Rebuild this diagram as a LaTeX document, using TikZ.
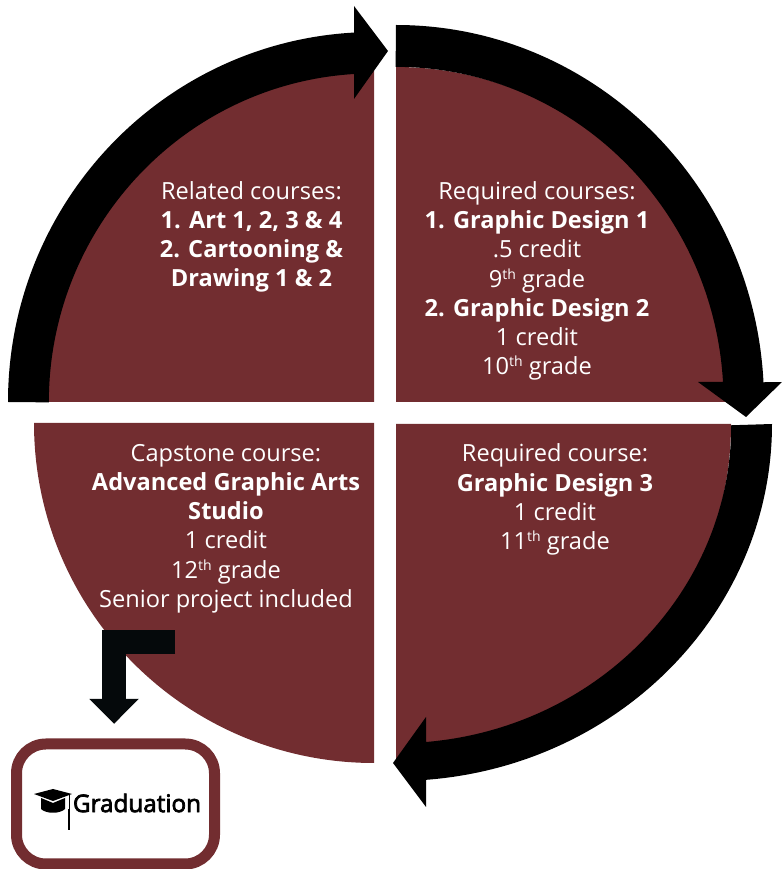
\documentclass[tikz,border=0pt]{standalone}
\usepackage{fontspec}
\setmainfont{Open Sans}
\newfontfamily\gradfont[FakeBold=3]{Open Sans}
\usetikzlibrary{arrows.meta}
\definecolor{maroon}{HTML}{722D30}
\definecolor{elbowblack}{HTML}{05090B}
\newcommand{\ordinal}[1]{\raisebox{0.62ex}{\fontsize{10.5}{10.5}\selectfont #1}}
\tikzset{
  wedge/.style={fill=maroon},
  band/.style={fill=black},
  coursetext/.style={text=white,align=center,font=\fontsize{17.7}{21.9}\selectfont,inner sep=0pt},
  capshape/.style={fill=black},
  elbowarrow/.style={draw=elbowblack,line width=18pt,miter limit=10,
    -{Triangle[length=18.75pt,width=36pt,color=elbowblack]},shorten >=11pt}
}
\begin{document}
\begin{tikzpicture}[x=0.75pt,y=0.75pt]
      \useasboundingbox (0,0) rectangle (782,869);
      \fill[wedge] (374,467) -- (47,467) arc[start angle=180,end angle=90,x radius=327,y radius=331] -- cycle;
      \fill[wedge] (396,467) -- (396,802) arc[start angle=90,end angle=0,x radius=331,y radius=335] -- cycle;
      \fill[wedge] (396,445) -- (731,445) arc[start angle=0,end angle=-90,radius=335] -- cycle;
      \fill[wedge] (374,446) -- (374,106) arc[start angle=-90,end angle=-180,radius=340] -- cycle;
      \fill[band] (396,844) arc[start angle=90,end angle=3,x radius=368,y radius=377]
        -- (782,487) -- (746,452) -- (698,487) -- (723,487)
        arc[start angle=3.4,end angle=90,x radius=328,y radius=335] -- cycle;
      \fill[band] (772,445) arc[start angle=0,end angle=-85.4,x radius=376,y radius=357]
        -- (426,62) -- (393,106) -- (426,152) -- (426,127)
        arc[start angle=-84.9,end angle=0,x radius=335,y radius=318] -- cycle;
      \fill[band] (8,467) arc[start angle=180,end angle=93.1,x radius=366,y radius=370]
        -- (354,863) -- (388,818) -- (354,770) -- (354,795)
        arc[start angle=93.5,end angle=180,x radius=325,y radius=329] -- cycle;
      \node[coursetext] (related) at (251.5,632) {Related courses:\\\textbf{1. Art 1, 2, 3 \& 4}\\\textbf{2. Cartooning \&}\\\textbf{Drawing 1 \& 2}};
      \node[coursetext] (design12) at (537,588) {Required courses:\\\textbf{1. Graphic Design 1}\\.5 credit\\9\ordinal{th} grade\\\textbf{2. Graphic Design 2}\\1 credit\\10\ordinal{th} grade};
      \node[coursetext] (design3) at (555,369.5) {Required course:\\\textbf{Graphic Design 3}\\1 credit\\11\ordinal{th} grade};
      \node[coursetext] (capstone) at (226,340.5) {Capstone course:\\\textbf{Advanced Graphic Arts}\\\textbf{Studio}\\1 credit\\12\ordinal{th} grade\\Senior project included};
      \node[draw=maroon,line width=8.25pt,rounded corners=22pt,minimum width=148.5pt,minimum height=90pt,inner sep=0pt] (gradbox) at (115.5,65) {};
      \node[inner sep=0pt,font=\gradfont\fontsize{18.2}{21}\selectfont,text=black] (gradtext) at (137,66) {Graduation};
      \coordinate (elbowstart) at (175,227);
      \draw[elbowarrow] (elbowstart) -| ([xshift=-1.1pt]gradbox.north);
      \fill[capshape] (34,75) -- (53,80) -- (72,75) -- (53,68) -- cycle;
      \fill[capshape] (41,71) -- (53,66) -- (65,71) -- (65,60) .. controls (60,55) and (46,55) .. (41,60) -- cycle;
      \draw[line width=0.75pt] (69,75) -- (69,60);
      \draw[line width=1.5pt] (69,60) -- (69,39);
\end{tikzpicture}
\end{document}
